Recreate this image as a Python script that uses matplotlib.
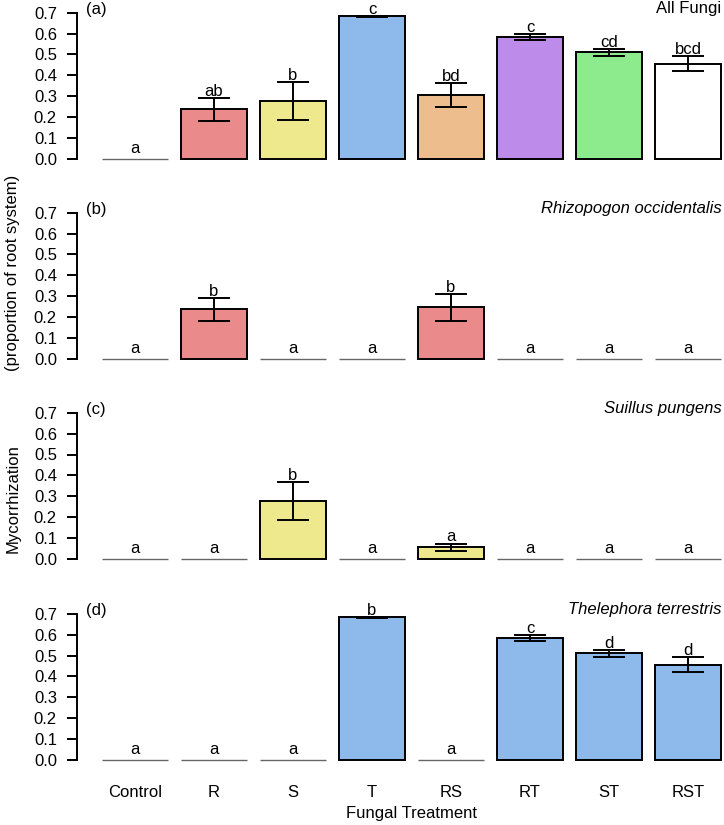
import numpy as np
import matplotlib
matplotlib.use("Agg")
import matplotlib.pyplot as plt
import matplotlib.transforms as mtransforms

plt.rcParams['font.family'] = ['Liberation Sans', 'DejaVu Sans']
plt.rcParams['font.size'] = 12

treatments = ["Control", "R", "S", "T", "RS", "RT", "ST", "RST"]

all_mean = [0.0, 0.237, 0.278, 0.683, 0.306, 0.585, 0.511, 0.456]
all_se = [0.0, 0.056, 0.090, 0.002, 0.057, 0.014, 0.017, 0.037]
all_letters = ["a", "ab", "b", "c", "bd", "c", "cd", "bcd"]

rhizo_mean = [0.0, 0.237, 0.0, 0.0, 0.247, 0.0, 0.0, 0.0]
rhizo_se = [0.0, 0.056, 0.0, 0.0, 0.065, 0.0, 0.0, 0.0]
rhizo_letters = ["a", "b", "a", "a", "b", "a", "a", "a"]

suillus_mean = [0.0, 0.0, 0.278, 0.0, 0.056, 0.0, 0.0, 0.0]
suillus_se = [0.0, 0.0, 0.090, 0.0, 0.018, 0.0, 0.0, 0.0]
suillus_letters = ["a", "a", "b", "a", "a", "a", "a", "a"]

thele_mean = [0.0, 0.0, 0.0, 0.683, 0.0, 0.585, 0.511, 0.456]
thele_se = [0.0, 0.0, 0.0, 0.002, 0.0, 0.014, 0.017, 0.037]
thele_letters = ["a", "a", "a", "b", "a", "c", "d", "d"]

pink = "#EB8A8A"
yellow = "#EDE98C"
blue = "#8DBAEA"
tan = "#EDBD8D"
purple = "#BD8CEA"
green = "#8DEA8D"

all_colors = ["white", pink, yellow, blue, tan, purple, green, "white"]

panels = [
    ("(a)", "All Fungi", False, all_mean, all_se, all_letters, all_colors),
    ("(b)", "Rhizopogon occidentalis", True, rhizo_mean, rhizo_se, rhizo_letters, [pink] * 8),
    ("(c)", "Suillus pungens", True, suillus_mean, suillus_se, suillus_letters, [yellow] * 8),
    ("(d)", "Thelephora terrestris", True, thele_mean, thele_se, thele_letters, [blue] * 8),
]

W, H = 724, 825
fig = plt.figure(figsize=(W / 100, H / 100), dpi=100)

# pixel layout
left_px, right_px = 77, 724
zero_px = [159, 359, 559, 760]
px_per_unit = 209
ylo, yhi = -0.03, 0.73
x = np.arange(len(treatments))
xlim = (-0.734, 7.456)

axes = []
for i, (tag, title, italic, mean, se, letters, colors) in enumerate(panels):
    z = zero_px[i]
    top = z - yhi * px_per_unit
    bot = z - ylo * px_per_unit
    ax = fig.add_axes([left_px / W, 1 - bot / H, (right_px - left_px) / W, (bot - top) / H])
    axes.append(ax)
    mean = np.array(mean)
    se = np.array(se)

    edge = ["black" if m > 0 else "#666666" for m in mean]
    lw = [1.4 if m > 0 else 1.0 for m in mean]
    ax.bar(x, mean, width=1 / 1.2, color=colors, edgecolor=edge, linewidth=lw, zorder=2)

    has_err = se > 0
    ax.errorbar(x[has_err], mean[has_err], yerr=se[has_err], fmt="none",
                ecolor="black", elinewidth=1.4, capsize=11.2, capthick=1.4, zorder=3)

    for xi, m, s, lab in zip(x, mean, se, letters):
        off = 1.5 if m > 0 else 4.3
        ax.annotate(lab, (xi, m + s), xytext=(0, off), textcoords="offset points",
                    ha="center", va="baseline", fontsize=12)

    trans = mtransforms.blended_transform_factory(ax.transAxes, ax.transData)
    ax.text(0.014, 0.714, tag, transform=trans, ha="left", va="center", fontsize=12)
    ax.text(0.996, 0.7, title, transform=trans, ha="right", va="baseline",
            fontsize=12, style="italic" if italic else "normal")

    ax.set_xlim(*xlim)
    ax.set_ylim(ylo, yhi)
    ax.set_yticks(np.arange(0, 0.71, 0.1))
    ax.set_yticklabels([f"{v:.1f}" for v in np.arange(0, 0.71, 0.1)])
    for sp in ["top", "right", "bottom"]:
        ax.spines[sp].set_visible(False)
    ax.spines["left"].set_bounds(0, 0.7)
    ax.spines["left"].set_linewidth(1.4)
    ax.tick_params(axis="y", length=7.2, width=1.4, pad=7.2, labelsize=12)
    ax.set_xticks(x)
    if i < 3:
        ax.tick_params(axis="x", length=0, labelbottom=False)
    else:
        ax.set_xticklabels(treatments)
        ax.tick_params(axis="x", length=0, pad=13.5, labelsize=12)

# x label centred on bars
tr = mtransforms.blended_transform_factory(axes[-1].transData, fig.transFigure)
axes[-1].text(3.5, 1 - 818 / H, "Fungal Treatment", transform=tr, ha="center",
              va="baseline", fontsize=12)

fig.text(13 / W, 1 - 499 / H, "Mycorrhization", rotation=90, ha="center", va="center", fontsize=12)
fig.text(13 / W, 1 - 273 / H, "(proportion of root system)", rotation=90, ha="center",
         va="center", fontsize=12)

fig.savefig("out.png", dpi=100)
